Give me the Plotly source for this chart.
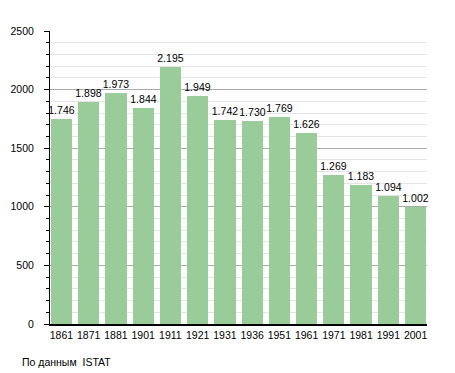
import plotly.graph_objects as go

years = ["1861", "1871", "1881", "1901", "1911", "1921", "1931", "1936", "1951", "1961", "1971", "1981", "1991", "2001"]
population = [1746, 1898, 1973, 1844, 2195, 1949, 1742, 1730, 1769, 1626, 1269, 1183, 1094, 1002]
labels = [f"{v:,}".replace(",", ".") for v in population]

FONT = "Liberation Sans, Arial"

fig = go.Figure()
fig.add_trace(go.Bar(
    x=list(range(len(years))), y=population, text=labels, textposition="outside",
    textfont=dict(size=10.5, color="black", family=FONT), constraintext="none",
    marker=dict(color="#99cc99", line=dict(width=0)), width=0.78, cliponaxis=False,
))
fig.update_layout(
    width=455, height=373, margin=dict(l=42, r=36, t=23, b=57, autoexpand=False),
    plot_bgcolor="white", paper_bgcolor="white", showlegend=False,
    font=dict(family=FONT, size=10.5, color="black"),
    bargap=0,
    annotations=[dict(text="По данным  ISTAT", xref="paper", yref="paper", x=-0.08, y=-0.104,
                      xanchor="left", yanchor="top", showarrow=False,
                      font=dict(size=10.5, color="black", family=FONT))],
)
fig.update_xaxes(
    tickmode="array", tickvals=list(range(len(years))), ticktext=years,
    range=[-0.42, len(years) - 0.58], showgrid=False, showline=True, linecolor="black", linewidth=2,
    ticks="", tickfont=dict(size=10.5), zeroline=False,
)
fig.update_yaxes(
    range=[0, 2500], dtick=500, showgrid=True, gridcolor="#aaaaaa", gridwidth=1,
    minor=dict(dtick=100, showgrid=True, gridcolor="#e4e4e4", ticks="outside", ticklen=3, tickcolor="black"),
    ticks="outside", ticklen=5, tickcolor="black", showline=True, linecolor="black", linewidth=1,
    zeroline=False, tickfont=dict(size=10.5), tickformat="d", ticklabelstandoff=8,
)
fig.write_html("out.html")
